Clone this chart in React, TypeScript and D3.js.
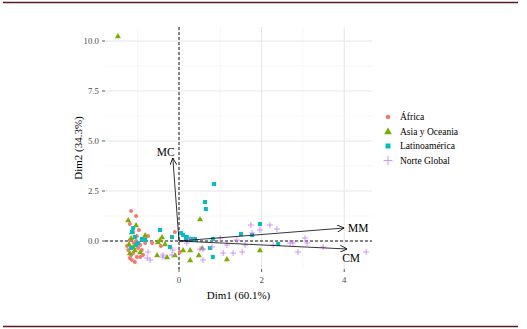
import React from "react";
import * as d3 from "d3";

const groups = ["África", "Asia y Oceania", "Latinoamérica", "Norte Global"];
const groupColors = ["#F8766D", "#7CAE00", "#00BFC4", "#C77CFF"];

const africaDim1 = [-1.16, -1.04, -1.19, -1.11, -0.97, -1.02, -1.19, -0.82, -0.75, -1.09, -0.94, -1.26, -0.99, -0.9, -1.23, -1.11, -1.16, -0.87, -1.02, -1.19, -1.07, -0.65, -0.44, -0.1, -1.14, -0.94, -0.82, -1.04, 0.02];
const africaDim2 = [1.5, 1.25, 0.85, 0.45, 0.55, 0.25, 0.05, 0.15, 0.25, -0.1, -0.2, -0.25, -0.35, -0.45, -0.45, -0.6, -0.7, -0.7, -0.8, -0.85, -1.05, -0.1, -0.25, 0.45, -0.95, -0.8, -0.1, 0.0, -0.55];

const asiaDim1 = [-1.48, -1.23, -1.04, -1.16, -1.21, -1.07, -1.19, -0.94, -1.11, -0.41, -0.46, -0.51, -0.34, -0.53, -0.29, -0.1, 0.1, 0.27, 0.51, 0.48, 0.56, 0.27, 1.16, 1.96, -0.82, -1.14];
const asiaDim2 = [10.25, 1.05, 0.8, 0.15, -0.15, -0.45, -0.6, -0.55, -0.3, 0.2, 0.05, -0.05, -0.15, -0.7, -0.8, -0.7, -0.45, -0.95, 1.1, -0.7, -0.35, -0.45, -0.9, -0.45, 0.3, 0.45];

const latamDim1 = [0.85, 0.63, 0.65, 1.96, 1.5, 1.77, 0.82, 0.75, 0.82, 2.4, 0.29, 0.1, 0.19, 0.17, 0.39, -0.46, -1.14, -0.9, -0.17, -0.22, -1.07, -0.99, -1.16, -1.11, -0.82, -1.04, 0.05];
const latamDim2 = [2.85, 1.95, 1.6, 0.85, 0.35, 0.3, 0.1, -0.35, -0.8, -0.15, 0.1, 0.3, 0.2, 0.1, 0.1, 0.55, 0.45, 0.1, 0.2, -0.3, 0.2, -0.1, -0.35, 0.65, 0.05, -0.2, 0.4];

const norteDim1 = [1.74, 1.96, 2.2, 2.37, 1.77, 1.4, 0.58, 0.8, 1.07, 1.31, 1.53, 1.6, 2.69, 3.05, 3.1, 2.88, 3.49, 4.53, 2.28, 2.76, 0.19, 0.27, -0.39, -0.17, 0.51, 0.58, -0.75, -0.7, -0.77, 1.0, 1.16, -0.39, -0.15];
const norteDim2 = [0.8, 0.55, 0.8, 0.6, 0.4, 0.05, -0.4, -0.3, -0.6, -0.6, -0.55, -0.2, -0.1, 0.15, -0.1, -0.55, -0.3, -0.55, -0.2, -0.1, -0.1, 0.1, -0.7, -0.7, -0.4, -0.95, -0.55, -0.95, -0.85, 0.15, -0.2, -0.8, -0.45];

const arrowNames = ["MC", "MM", "CM"];
const arrowDim1 = [-0.15, 4.0, 4.07];
const arrowDim2 = [4.15, 0.65, -0.4];

const xTicks = [0, 2, 4];
const yTicks = [0, 2.5, 5, 7.5, 10];
const xMinor = [-1, 1, 3];
const yMinor = [1.25, 3.75, 6.25, 8.75];

const FONT = "'Liberation Serif', 'Times New Roman', serif";

export default function App() {
  const left = 105, right = 372, top = 27, bottom = 269;
  const x = d3.scaleLinear().domain([-1.792, 4.673]).range([left, right]);
  const y = d3.scaleLinear().domain([-1.4, 10.7]).range([bottom, top]);

  const series = [
    { xs: africaDim1, ys: africaDim2 },
    { xs: asiaDim1, ys: asiaDim2 },
    { xs: latamDim1, ys: latamDim2 },
    { xs: norteDim1, ys: norteDim2 },
  ];

  const tri = d3.symbol().type(d3.symbolTriangle).size(16)();
  const triLeg = d3.symbol().type(d3.symbolTriangle).size(26)();

  const marker = (g: number, cx: number, cy: number, key: string, legend = false) => {
    const c = groupColors[g];
    if (g === 0) return <circle key={key} cx={cx} cy={cy} r={legend ? 2.3 : 2} fill={c} />;
    if (g === 1) return <path key={key} d={legend ? triLeg : tri} transform={`translate(${cx},${cy + 0.5})`} fill={c} />;
    if (g === 2) {
      const s = legend ? 5 : 4;
      return <rect key={key} x={cx - s / 2} y={cy - s / 2} width={s} height={s} fill={c} />;
    }
    const h = legend ? 4.5 : 3;
    return (
      <path key={key} d={`M${cx - h},${cy}H${cx + h}M${cx},${cy - h}V${cy + h}`} stroke={c} strokeWidth={0.8} fill="none" />
    );
  };

  const ox = x(0), oy = y(0);
  const labelOffsets = [[-7, -6], [14, 0], [4, 9]];

  return (
    <svg width={527} height={329} style={{ position: "absolute", left: 0, top: 0, background: "#fff" }}>
      <defs>
        <marker id="ah" viewBox="0 0 10 10" refX="10" refY="5" markerWidth="7" markerHeight="7" orient="auto" markerUnits="userSpaceOnUse">
          <path d="M0,0L10,5L0,10" fill="none" stroke="#000" strokeWidth={1.2} />
        </marker>
      </defs>
      <line x1={3} x2={518} y1={2.5} y2={2.5} stroke="#5a1a22" strokeWidth={1.5} />
      <line x1={3} x2={518} y1={326.5} y2={326.5} stroke="#5a1a22" strokeWidth={1.5} />

      {/* grid */}
      {yMinor.map((t) => (
        <line key={"ym" + t} x1={left} x2={right} y1={y(t)} y2={y(t)} stroke="#f2f2f2" strokeWidth={0.6} />
      ))}
      {xMinor.map((t) => (
        <line key={"xm" + t} x1={x(t)} x2={x(t)} y1={top} y2={bottom} stroke="#f2f2f2" strokeWidth={0.6} />
      ))}
      {yTicks.map((t) => (
        <line key={"yg" + t} x1={left} x2={right} y1={y(t)} y2={y(t)} stroke="#e6e6e6" strokeWidth={1} />
      ))}
      {xTicks.map((t) => (
        <line key={"xg" + t} x1={x(t)} x2={x(t)} y1={top} y2={bottom} stroke="#e6e6e6" strokeWidth={1} />
      ))}

      {/* reference lines */}
      <line x1={left} x2={right} y1={oy} y2={oy} stroke="#000" strokeWidth={0.9} strokeDasharray="3,2" />
      <line x1={ox} x2={ox} y1={top} y2={bottom} stroke="#000" strokeWidth={0.9} strokeDasharray="3,2" />

      {/* points */}
      {series.map((s, g) => s.xs.map((v, i) => marker(g, x(v), y(s.ys[i]), `p${g}-${i}`)))}

      {/* arrows */}
      {arrowNames.map((n, i) => (
        <g key={n}>
          <line x1={ox} y1={oy} x2={x(arrowDim1[i])} y2={y(arrowDim2[i])} stroke="#000" strokeWidth={0.8} markerEnd="url(#ah)" />
          <text x={x(arrowDim1[i]) + labelOffsets[i][0]} y={y(arrowDim2[i]) + labelOffsets[i][1]} fontFamily={FONT} fontSize={11.5} textAnchor="middle" dominantBaseline="central" fill="#000">{n}</text>
        </g>
      ))}

      {/* axes ticks */}
      {yTicks.map((t) => (
        <g key={"yt" + t}>
          <line x1={left - 3} x2={left} y1={y(t)} y2={y(t)} stroke="#333" strokeWidth={0.8} />
          <text x={left - 6} y={y(t)} fontFamily={FONT} fontSize={8.8} fill="#4d4d4d" textAnchor="end" dominantBaseline="central">{d3.format(".1f")(t)}</text>
        </g>
      ))}
      {xTicks.map((t) => (
        <g key={"xt" + t}>
          <line x1={x(t)} x2={x(t)} y1={bottom} y2={bottom + 3} stroke="#333" strokeWidth={0.8} />
          <text x={x(t)} y={bottom + 11} fontFamily={FONT} fontSize={8.8} fill="#4d4d4d" textAnchor="middle" dominantBaseline="central">{t}</text>
        </g>
      ))}
      <text x={(left + right) / 2} y={295} fontFamily={FONT} fontSize={11} textAnchor="middle" dominantBaseline="central" fill="#000">Dim1 (60.1%)</text>
      <text transform={`translate(78,${(top + bottom) / 2}) rotate(-90)`} fontFamily={FONT} fontSize={11} textAnchor="middle" dominantBaseline="central" fill="#000">Dim2 (34.3%)</text>

      {/* legend */}
      {groups.map((gname, g) => {
        const ly = 117 + g * 14.5;
        return (
          <g key={gname}>
            {marker(g, 388, ly, "l" + g, true)}
            <text x={400} y={ly} fontFamily={FONT} fontSize={9.5} dominantBaseline="central" fill="#000">{gname}</text>
          </g>
        );
      })}
    </svg>
  );
}
